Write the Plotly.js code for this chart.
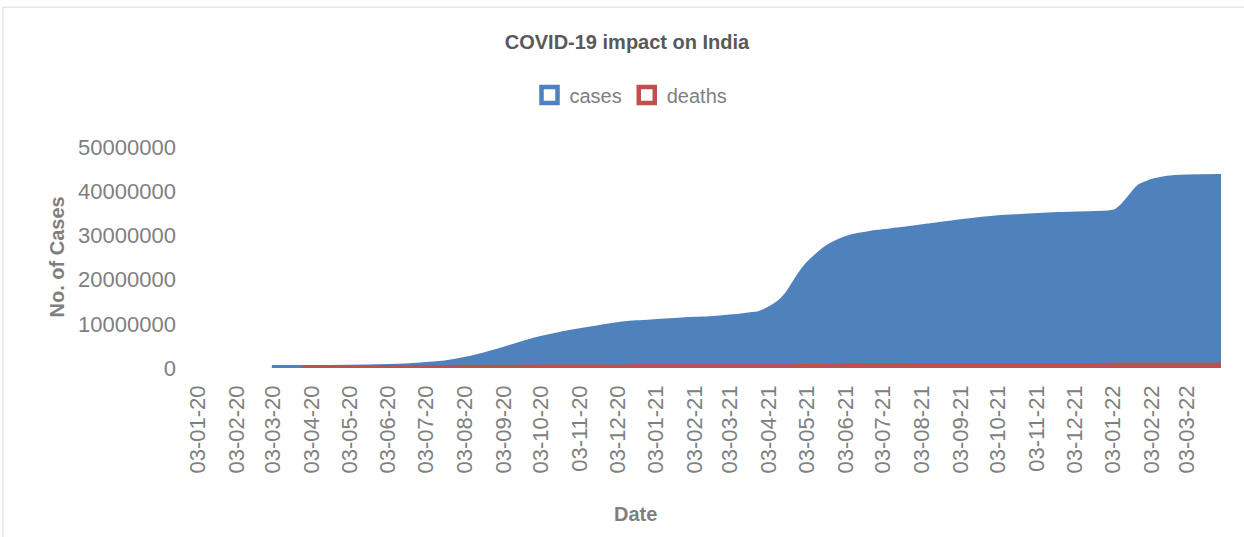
<!DOCTYPE html>
<html>
<head>
<meta charset="utf-8">
<script src="https://cdn.plot.ly/plotly-3.0.1.min.js"></script>
<style>
html,body{margin:0;padding:0;background:#fff;}
#chart{width:1244px;height:537px;}
</style>
</head>
<body>
<div id="chart"></div>
<script>
// ---- Data ----
const seriesNames = ["cases", "deaths"];

const caseDates = [
  "2020-03-02","2020-04-03","2020-05-03","2020-06-03","2020-06-20","2020-07-03","2020-07-18",
  "2020-08-03","2020-08-18","2020-09-03","2020-09-18","2020-10-03","2020-10-18","2020-11-03",
  "2020-11-18","2020-12-03","2020-12-18","2021-01-03","2021-01-18","2021-02-03","2021-02-18",
  "2021-03-03","2021-03-18","2021-03-26","2021-04-03","2021-04-11","2021-04-17","2021-04-22",
  "2021-04-27","2021-05-02","2021-05-07","2021-05-12","2021-05-18","2021-05-25","2021-06-03",
  "2021-06-10","2021-06-20","2021-06-29","2021-07-18","2021-08-08","2021-09-03","2021-10-03",
  "2021-10-24","2021-11-20","2021-12-31","2022-01-05","2022-01-08","2022-01-12","2022-01-16",
  "2022-01-20","2022-01-24","2022-01-30","2022-02-06","2022-02-15","2022-03-03","2022-03-30"
];
const cases = [
  5, 2500, 42000, 210000, 420000, 680000, 1050000,
  1800000, 2800000, 4100000, 5400000, 6600000, 7500000, 8300000,
  9000000, 9700000, 10100000, 10400000, 10650000, 10900000, 11100000,
  11400000, 11900000, 12200000, 13200000, 14600000, 16300000, 18400000,
  20600000, 22600000, 24100000, 25400000, 26800000, 28000000, 29100000,
  29700000, 30200000, 30600000, 31200000, 32000000, 33000000, 33900000,
  34200000, 34600000, 35000000, 35300000, 35900000, 37000000, 38300000,
  39700000, 40900000, 41700000, 42300000, 42800000, 43100000, 43200000
];

const deathDates = [
  "2020-03-26","2020-05-03","2020-06-03","2020-07-03","2020-08-03","2020-09-03","2020-10-03",
  "2020-11-03","2020-12-03","2021-01-03","2021-02-03","2021-03-03","2021-04-03","2021-05-03",
  "2021-06-03","2021-07-03","2021-08-03","2021-09-03","2021-10-03","2021-11-03","2021-12-03",
  "2022-01-03","2022-02-03","2022-03-03","2022-03-30"
];
const deaths = [
  15, 1400, 6000, 18000, 38000, 67000, 100000,
  123000, 139000, 149000, 154000, 157000, 164000, 220000,
  335000, 400000, 425000, 440000, 449000, 459000, 470000,
  482000, 497000, 514000, 521000
];

const tickDates = [
  "2020-01-03","2020-02-03","2020-03-03","2020-04-03","2020-05-03","2020-06-03","2020-07-03",
  "2020-08-03","2020-09-03","2020-10-03","2020-11-03","2020-12-03","2021-01-03","2021-02-03",
  "2021-03-03","2021-04-03","2021-05-03","2021-06-03","2021-07-03","2021-08-03","2021-09-03",
  "2021-10-03","2021-11-03","2021-12-03","2022-01-03","2022-02-03","2022-03-03"
];
const tickLabels = [
  "03-01-20","03-02-20","03-03-20","03-04-20","03-05-20","03-06-20","03-07-20",
  "03-08-20","03-09-20","03-10-20","03-11-20","03-12-20","03-01-21","03-02-21",
  "03-03-21","03-04-21","03-05-21","03-06-21","03-07-21","03-08-21","03-09-21",
  "03-10-21","03-11-21","03-12-21","03-01-22","03-02-22","03-03-22"
];
const yTickVals = [0, 10000000, 20000000, 30000000, 40000000, 50000000];

const colors = ["#4f81bd", "#c0504d"];
const FONT = "Liberation Sans, Arial, sans-serif";
const LW = 6;

function areaTraces(xs, ys, color, name) {
  return [
    {x: xs, y: ys, type: "scatter", mode: "lines", fill: "tozeroy",
     fillcolor: color, line: {color: color, width: LW, shape: "spline", smoothing: 0.8},
     name: name, showlegend: false, hoverinfo: "skip"},
    // outline along the base, as in the Excel area outline
    {x: [xs[0], xs[xs.length - 1]], y: [0, 0], type: "scatter", mode: "lines",
     line: {color: color, width: LW}, showlegend: false, hoverinfo: "skip"}
  ];
}

const traces = [
  ...areaTraces(caseDates, cases, colors[0], seriesNames[0]),
  ...areaTraces(deathDates, deaths, colors[1], seriesNames[1]),
  // legend entries
  {x: [null], y: [null], type: "scatter", mode: "markers", name: seriesNames[0],
   marker: {symbol: "square", size: 16, color: "#ffffff", line: {color: colors[0], width: 4.5}}},
  {x: [null], y: [null], type: "scatter", mode: "markers", name: seriesNames[1],
   marker: {symbol: "square", size: 16, color: "#ffffff", line: {color: colors[1], width: 4.5}}}
];

const L = 198, R = 1221, T = 146.5, B = 368.5;
const pw = R - L, ph = B - T;
const px = v => (v - L) / pw;
const py = v => (B - v) / ph;

const layout = {
  width: 1244, height: 537,
  margin: {l: L, r: 1244 - R, t: T, b: 537 - B, pad: 0},
  paper_bgcolor: "#ffffff", plot_bgcolor: "#ffffff",
  font: {family: FONT, color: "#7f7f7f"},
  title: {text: "<b>COVID-19 impact on India</b>", xref: "container", yref: "container",
          x: 627 / 1244, xanchor: "center", y: 1 - 42 / 537, yanchor: "middle",
          font: {family: FONT, size: 20, color: "#595959"}},
  showlegend: true,
  legend: {orientation: "h", xref: "container", yref: "container",
           x: 631 / 1244, xanchor: "center", y: 1 - 95 / 537, yanchor: "middle",
           font: {family: FONT, size: 20, color: "#7f7f7f"},
           itemwidth: 30, tracegroupgap: 0, bgcolor: "rgba(0,0,0,0)"},
  xaxis: {type: "date", range: ["2020-01-03", "2022-03-30"],
          tickmode: "array", tickvals: tickDates, ticktext: tickLabels,
          tickangle: -90, tickfont: {family: FONT, size: 22, color: "#808080"},
          showgrid: false, zeroline: false, showline: false, ticks: "",
          ticklabelstandoff: 12, automargin: false, fixedrange: true},
  yaxis: {range: [0, 50000000], tickmode: "array", tickvals: yTickVals,
          tickformat: "d", tickfont: {family: FONT, size: 22, color: "#808080"},
          showgrid: false, zeroline: false, showline: false, ticks: "",
          ticklabelstandoff: 21, automargin: false, fixedrange: true},
  annotations: [
    {text: "<b>No. of Cases</b>", xref: "paper", yref: "paper", x: px(56), y: 0.5,
     xanchor: "center", yanchor: "middle", textangle: -90, showarrow: false,
     font: {family: FONT, size: 20, color: "#7f7f7f"}},
    {text: "<b>Date</b>", xref: "paper", yref: "paper", x: px(635), y: py(515),
     xanchor: "center", yanchor: "middle", showarrow: false,
     font: {family: FONT, size: 20, color: "#7f7f7f"}}
  ],
  shapes: [
    {type: "rect", xref: "paper", yref: "paper", x0: px(3), x1: px(1260), y0: py(560), y1: py(6),
     line: {color: "#d9d9d9", width: 1}, fillcolor: "rgba(0,0,0,0)", layer: "below"}
  ]
};

Plotly.newPlot("chart", traces, layout, {staticPlot: true, displayModeBar: false});
</script>
</body>
</html>
